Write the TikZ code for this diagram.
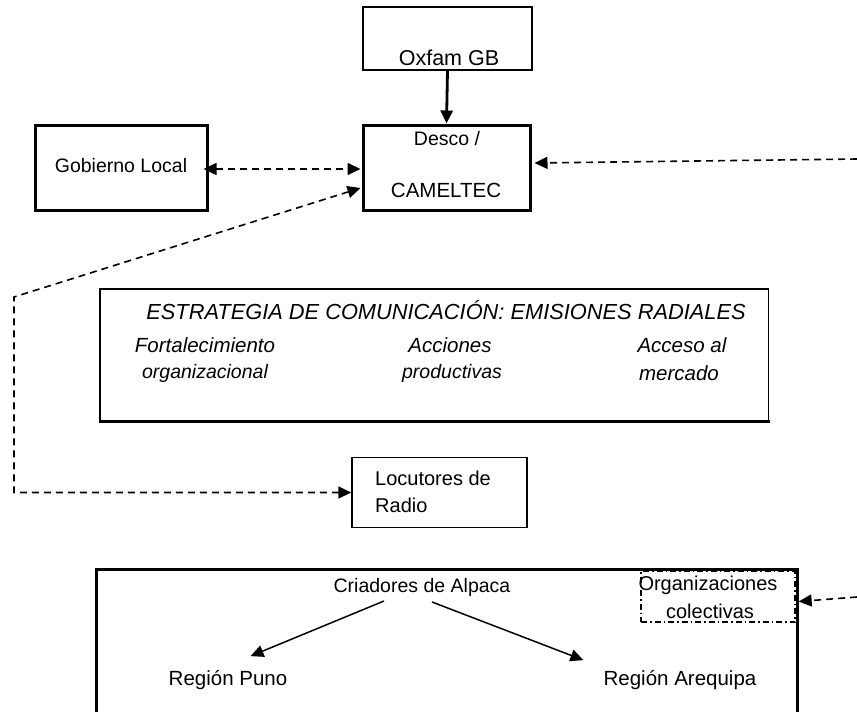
\documentclass[tikz,border=0pt]{standalone}
\usepackage{fontspec}
\setmainfont{Liberation Sans}
\usetikzlibrary{arrows.meta}
\begin{document}
\begin{tikzpicture}[x=1pt,y=-1pt,
  thinbox/.style={draw, line width=1.4pt, inner sep=0pt},
  thickbox/.style={draw, line width=3pt, inner sep=0pt},
  plainbox/.style={inner sep=0pt},
  txt/.style={inner sep=0pt, font=\fontsize{19.5}{22}\selectfont},
  lowtxt/.style={inner sep=0pt, font=\fontsize{20.5}{24}\selectfont},
  ittxt/.style={inner sep=0pt, font=\fontsize{20.5}{23}\selectfont\itshape},
  itsmall/.style={inner sep=0pt, font=\fontsize{19.5}{22}\selectfont\itshape},
  dashline/.style={line width=1.6pt, dash pattern=on 7pt off 5pt},
  tipa/.tip={Triangle[length=13pt,width=12pt]},
  solidarrow/.style={line width=1.5pt, -tipa},
]
\useasboundingbox (0,0) rectangle (857,712);

% Oxfam GB
\node[thinbox, minimum width=169pt, minimum height=63pt] (oxfam) at (447.5,38.5) {};
\node[txt, font=\fontsize{21.5}{24}\selectfont] (oxfamt) at (449,58) {Oxfam GB};

% Desco / CAMELTEC
\node[thickbox, minimum width=167pt, minimum height=85pt] (desco) at (446.5,167.5) {};
\node[txt] (descot) at (447,139) {Desco /};
\node[txt, font=\fontsize{20.5}{24}\selectfont] (camel) at (446,190) {CAMELTEC};

\draw[line width=2.8pt, -tipa] (oxfam.south) -- (desco.north);

% Gobierno Local
\node[thickbox, minimum width=172pt, minimum height=85pt] (gob) at (121,167.5) {};
\node[txt] (gobt) at (121,166) {Gobierno Local};

\draw[dashline, tipa-tipa] ([xshift=-5pt,yshift=-1.5pt]gob.east) -- ([xshift=-1pt,yshift=-1.5pt]desco.west);

% right incoming dashed line
\coordinate (rin) at (857,159);
\draw[dashline, -tipa] (rin) -- ([xshift=3pt,yshift=4.5pt]desco.east);

% Estrategia box
\node[plainbox, minimum width=668pt, minimum height=132pt] (estr) at (434,355) {};
\draw[line width=1.4pt] (estr.south west) -- (estr.north west) -- (estr.north east) -- (estr.south east);
\draw[line width=3pt] ([xshift=-1pt]estr.south west) -- ([xshift=2pt]estr.south east);
\node[inner sep=0pt, font=\fontsize{21.8}{25}\selectfont\itshape] (title) at (446,310) {ESTRATEGIA DE COMUNICACIÓN: EMISIONES RADIALES};
\node[ittxt] (fort) at (205,345) {Fortalecimiento};
\node[itsmall] (orga) at (205,373) {organizacional};
\node[ittxt] (acc) at (450,345) {Acciones};
\node[itsmall] (prod) at (452,373) {productivas};
\node[ittxt] (acce) at (682,345) {Acceso al};
\node[ittxt] (merc) at (679,373) {mercado};

% Locutores de Radio
\node[thinbox, minimum width=175pt, minimum height=70pt] (locut) at (439.5,492.5) {};
\node[txt, align=left, anchor=west, font=\fontsize{20}{27}\selectfont] (locutt) at (375,492) {Locutores de\\Radio};

% dashed path Desco -- Locutores
\coordinate (c1) at (14,297);
\draw[dashline, tipa-tipa] ([xshift=-1pt,yshift=-20.5pt]desco.west) -- (c1) -- (c1 |- locut.west) -- (locut.west);

% Criadores box
\node[plainbox, minimum width=700pt, minimum height=142pt] (cria) at (447,641) {};
\draw[line width=3pt] (cria.south west) -- (cria.north west) -- (cria.north east) -- (cria.south east);
\node[lowtxt, font=\fontsize{19.5}{23}\selectfont] (criat) at (422,587) {Criadores de Alpaca};
\node[lowtxt] (puno) at (228,680) {Región Puno};
\node[lowtxt] (areq) at (680,680) {Región Arequipa};
\coordinate (s1) at (384,601);
\coordinate (s2) at (432,602);
\draw[solidarrow] (s1) -- ([xshift=82pt,yshift=14pt]puno.north west);
\draw[solidarrow] (s2) -- ([xshift=-20pt,yshift=10pt]areq.north west);

% Organizaciones colectivas
\node[draw, line width=1.3pt, dash pattern=on 6pt off 3pt on 1.5pt off 3pt, inner sep=0pt,
      minimum width=154pt, minimum height=51pt] (orgc) at (718,596.5) {};
\node[lowtxt, font=\fontsize{20}{23}\selectfont] (orgt) at (708,585) {Organizaciones};
\node[lowtxt, font=\fontsize{20}{23}\selectfont] (colt) at (710,611) {colectivas};
\coordinate (rin2) at (857,597);
\draw[dashline, -tipa] (rin2) -- ([xshift=3pt,yshift=-5pt]orgc.east);
\end{tikzpicture}
\end{document}
